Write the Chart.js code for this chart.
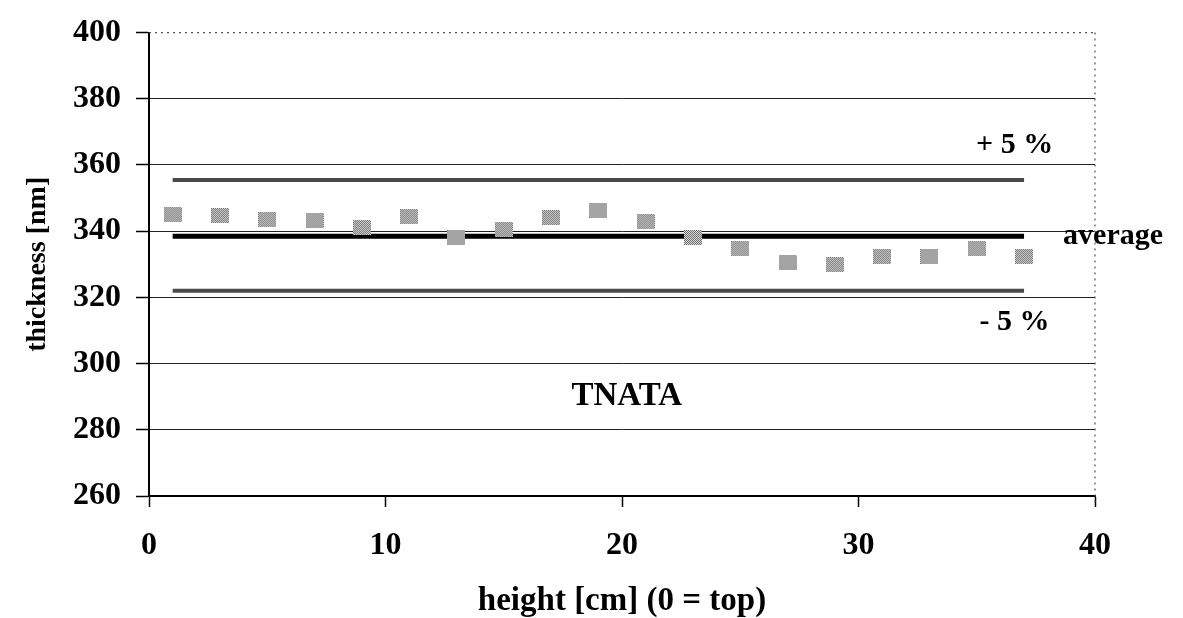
<!DOCTYPE html>
<html>
<head>
<meta charset="utf-8">
<script src="https://cdn.jsdelivr.net/npm/chart.js@4"></script>
<style>
  body { margin: 0; background: #fff; }
</style>
</head>
<body>
<canvas id="chart" width="1183" height="618"></canvas>
<script>
// measured heights (cm) and film thickness (nm)
const heights = [1, 3, 5, 7, 9, 11, 13, 15, 17, 19, 21, 23, 25, 27, 29, 31, 33, 35, 37];
const thickness = [345.0, 344.7, 343.5, 343.2, 341.1, 344.4, 338.0, 340.5, 344.1, 346.4,
                   342.9, 338.1, 334.7, 330.4, 329.9, 332.4, 332.4, 334.7, 332.4];

// reference lines (start / end height)
const limitX = [1, 37];
const upperLimit = [355.5, 355.5];
const averageLine = [338.5, 338.5];
const lowerLimit = [322.0, 322.0];

const yTicks = [260, 280, 300, 320, 340, 360, 380, 400];
const xTicks = [0, 10, 20, 30, 40];

// text notes placed in data units
const noteText = ['+ 5 %', 'average', '- 5 %', 'TNATA'];
const noteX = [36.6, 38.65, 36.6, 20.2];
const noteY = [366.0, 338.4, 312.6, 290];
const noteAlign = ['center', 'left', 'center', 'center'];
const noteSize = [30, 30, 30, 33];

const FONT = '"Liberation Serif", "Times New Roman", serif';

// dithered grey marker like the scanned print
function makeMarker() {
    const c = document.createElement('canvas');
    c.width = 18; c.height = 15;
    const g = c.getContext('2d');
    for (let i = 0; i < c.width; i++) {
        for (let j = 0; j < c.height; j++) {
            g.fillStyle = (i + j) % 2 === 0 ? '#707070' : '#d8d8d8';
            g.fillRect(i, j, 1, 1);
        }
    }
    return c;
}
const marker = makeMarker();

function pairs(xs, ys) {
    return xs.map((x, i) => ({ x: x, y: ys[i] }));
}

const notesPlugin = {
    id: 'notes',
    beforeDatasetsDraw(chart) {
        const ctx = chart.ctx;
        const xs = chart.scales.x, ys = chart.scales.y;
        ctx.save();
        // dotted frame top and right
        ctx.strokeStyle = '#555';
        ctx.lineWidth = 1.2;
        ctx.setLineDash([2, 4]);
        ctx.beginPath();
        ctx.moveTo(xs.left, ys.getPixelForValue(400));
        ctx.lineTo(xs.right, ys.getPixelForValue(400));
        ctx.moveTo(xs.getPixelForValue(40), ys.top);
        ctx.lineTo(xs.getPixelForValue(40), ys.bottom + 11);
        ctx.stroke();
        ctx.restore();
    },
    afterDatasetsDraw(chart) {
        const ctx = chart.ctx;
        const xs = chart.scales.x, ys = chart.scales.y;
        ctx.save();
        ctx.fillStyle = '#000';
        ctx.textBaseline = 'middle';
        noteText.forEach((t, i) => {
            ctx.font = 'bold ' + noteSize[i] + 'px ' + FONT;
            ctx.textAlign = noteAlign[i];
            ctx.fillText(t, xs.getPixelForValue(noteX[i]), ys.getPixelForValue(noteY[i]));
        });
        ctx.restore();
    }
};

const ctx = document.getElementById('chart').getContext('2d');
new Chart(ctx, {
    type: 'scatter',
    data: {
        datasets: [
            {
                label: 'thickness',
                data: pairs(heights, thickness),
                pointStyle: marker,
                pointRadius: 9,
                showLine: false,
                order: 0
            },
            {
                label: '+5%',
                data: pairs(limitX, upperLimit),
                showLine: true,
                borderColor: '#4a4a4a',
                borderWidth: 4,
                pointRadius: 0,
                order: 1
            },
            {
                label: 'average',
                data: pairs(limitX, averageLine),
                showLine: true,
                borderColor: '#000',
                borderWidth: 5,
                pointRadius: 0,
                order: 1
            },
            {
                label: '-5%',
                data: pairs(limitX, lowerLimit),
                showLine: true,
                borderColor: '#4a4a4a',
                borderWidth: 4,
                pointRadius: 0,
                order: 1
            }
        ]
    },
    options: {
        responsive: false,
        animation: false,
        layout: { padding: { left: 0, right: 88, top: 25, bottom: 0 } },
        plugins: {
            legend: { display: false },
            tooltip: { enabled: false }
        },
        scales: {
            x: {
                type: 'linear',
                min: xTicks[0],
                max: xTicks[xTicks.length - 1],
                afterBuildTicks: (s) => { s.ticks = xTicks.map(v => ({ value: v })); },
                afterFit: (s) => { s.height = 122; },
                grid: { drawOnChartArea: false, drawTicks: true, tickLength: 11, tickColor: '#000', tickWidth: 1.5 },
                border: { color: '#000', width: 2 },
                ticks: { color: '#000', padding: 21, font: { family: FONT, size: 32, weight: 'bold', lineHeight: 1.1 } },
                title: {
                    display: true,
                    text: 'height [cm] (0 = top)',
                    color: '#000',
                    font: { family: FONT, size: 33, weight: 'bold', lineHeight: 1 },
                    padding: { top: 0, bottom: 0 }
                }
            },
            y: {
                type: 'linear',
                min: yTicks[0],
                max: yTicks[yTicks.length - 1],
                afterBuildTicks: (s) => { s.ticks = yTicks.map(v => ({ value: v })); },
                afterFit: (s) => { s.width = 149; },
                grid: {
                    color: (c) => c.tick && c.tick.value === 400 ? 'rgba(0,0,0,0)' : '#222',
                    lineWidth: 1,
                    tickLength: 13,
                    tickColor: '#000',
                    tickWidth: 1.5
                },
                border: { color: '#000', width: 2 },
                ticks: { color: '#000', padding: 15, font: { family: FONT, size: 32, weight: 'bold', lineHeight: 1.1 } },
                title: {
                    display: true,
                    text: 'thickness [nm]',
                    color: '#000',
                    font: { family: FONT, size: 28, weight: 'bold' },
                    padding: { top: 21, bottom: 0 }
                }
            }
        }
    },
    plugins: [notesPlugin]
});
</script>
</body>
</html>
